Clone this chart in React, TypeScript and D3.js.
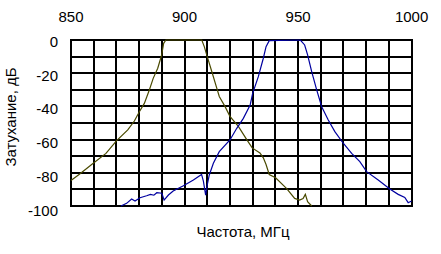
import React from "react";
import * as d3 from "d3";

const xTicks = [850, 900, 950, 1000];
const yTicks = [0, -20, -40, -60, -80, -100];
const xGrid = d3.range(850, 1001, 10);
const yGrid = d3.range(0, -101, -10);

const freqA = [850, 853.7, 859.8, 865.4, 870, 875, 877.9, 880.1, 882.3, 884.5, 886.2, 888.2, 889.9, 890.8, 891.8, 907.6, 908.7, 910, 912, 914.2, 915.3, 917.8, 920, 923.7, 927.4, 929.8, 933.2, 934.7, 935.9, 937.3, 940.1, 945, 948.5, 950.7, 952.2, 953.2, 954.2, 956];
const attA = [-84.7, -80.9, -74.3, -68.3, -60.8, -54.2, -48.8, -43.2, -38.2, -30.1, -23.1, -17, -9.2, -2, 0, 0, -4, -10, -19, -29, -34, -40, -46, -52, -60, -65, -68, -71, -75, -81, -83, -89.5, -95.4, -96.4, -95.5, -93, -97.4, -100];

const freqB = [872, 874.5, 876.7, 878.2, 880.4, 883.3, 885, 886.5, 887.8, 890, 891, 892.9, 895, 899.5, 903.9, 907.5, 908.3, 909.3, 910, 910.9, 912.7, 915.3, 920, 923, 925.9, 928.9, 930, 932.5, 934.7, 935.9, 937.3, 951, 952.9, 954.2, 956, 958.2, 960.4, 963.3, 966.2, 969.9, 973.6, 977.2, 980.2, 985.3, 990.4, 994.1, 997, 998.5, 1000];
const attB = [-100, -98.4, -95.8, -97, -95, -93.8, -93, -93.5, -92, -92.3, -96.4, -93.4, -91, -87.8, -84.3, -81, -85, -93.4, -87.3, -81.3, -74.3, -67.3, -60.2, -53.2, -47.2, -39.2, -32.1, -22.1, -11, -4, -0.4, 0, -3, -9, -19, -30, -40.2, -48.2, -55.2, -62.2, -68.3, -73.3, -79.3, -84.3, -89.8, -93, -94.8, -98, -97];

const xTitle = "Частота, МГц";
const yTitle = "Затухание, дБ";

export default function App() {
  const x = d3.scaleLinear().domain([850, 1000]).range([71, 411.6]);
  const y = d3.scaleLinear().domain([0, -100]).range([40, 206]);
  const yLab = d3.scaleLinear().domain([0, -100]).range([41.5, 210]);
  const line = d3
    .line<[number, number]>()
    .x((d) => x(d[0]))
    .y((d) => y(d[1]));
  const dA = line(freqA.map((f, i) => [f, attA[i]] as [number, number])) || "";
  const dB = line(freqB.map((f, i) => [f, attB[i]] as [number, number])) || "";
  const font = "'Liberation Sans', Arial, sans-serif";
  return (
    <svg
      width={441}
      height={254}
      style={{ position: "absolute", left: 0, top: 0, background: "#fff" }}
    >
      <rect x={0} y={0} width={441} height={254} fill="#fff" />
      <g stroke="#000" strokeWidth={2} shapeRendering="crispEdges">
        {xGrid.map((f) => (
          <line key={"v" + f} x1={Math.round(x(f))} x2={Math.round(x(f))} y1={y(0) - 1} y2={y(-100) + 1} />
        ))}
        {yGrid.map((v) => (
          <line key={"h" + v} x1={x(850) - 1} x2={Math.round(x(1000)) + 1} y1={Math.round(y(v))} y2={Math.round(y(v))} />
        ))}
      </g>
      <path d={dA} fill="none" stroke="#4a4a00" strokeWidth={1.2} />
      <path d={dB} fill="none" stroke="#0000a0" strokeWidth={1.2} />
      <g fontFamily={font} fontSize={15} fill="#000">
        {xTicks.map((f) => (
          <text key={"xt" + f} x={x(f)} y={22} textAnchor="middle">
            {f}
          </text>
        ))}
        {yTicks.map((v) => (
          <text key={"yt" + v} x={58} y={yLab(v)} textAnchor="end" dominantBaseline="central">
            {v}
          </text>
        ))}
        <text x={243} y={237} textAnchor="middle">
          {xTitle}
        </text>
        <text transform="translate(16,117) rotate(-90)" textAnchor="middle">
          {yTitle}
        </text>
      </g>
    </svg>
  );
}
